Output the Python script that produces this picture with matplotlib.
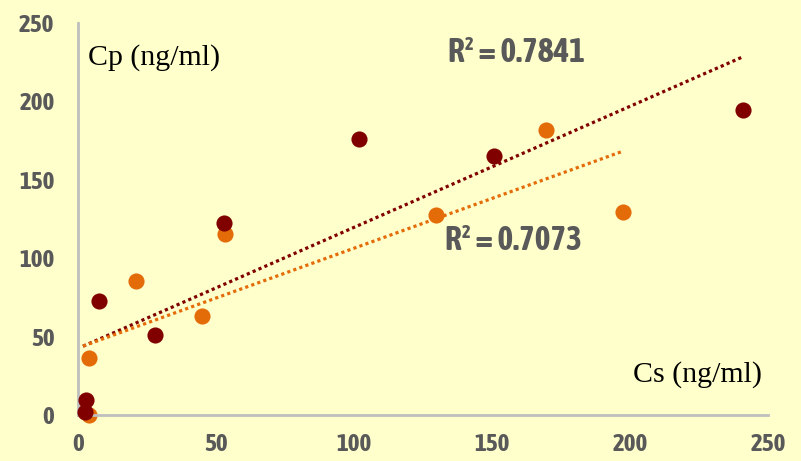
import matplotlib.pyplot as plt
from matplotlib import font_manager
import numpy as np

# serie 1 (merah tua)
cs_red = [2.5, 2.9, 7.6, 27.9, 52.9, 101.8, 150.7, 241.0]
cp_red = [2.0, 9.6, 72.7, 51.0, 122.4, 176.0, 165.0, 194.5]

# serie 2 (oranye)
cs_orange = [4.0, 4.0, 21.0, 45.0, 53.3, 129.7, 169.6, 197.6]
cp_orange = [0.0, 36.4, 85.5, 63.0, 115.4, 127.6, 181.8, 129.5]

r2_labels = ['R² = 0.7841', 'R² = 0.7073']
ticks = [0, 50, 100, 150, 200, 250]

bg = '#FFFFCC'
red = '#800000'
orange = '#E36C09'

# cari font sempit tebal kalau ada
narrow = None
for f in font_manager.fontManager.ttflist:
    nm = f.name
    w = f.weight if isinstance(f.weight, int) else 400
    if ('Condensed' in nm or 'Narrow' in nm) and w >= 700 and f.style == 'normal':
        narrow = nm
        break
if narrow:
    num_font = [narrow, 'DejaVu Sans']
    tick_size, r2_size = 18, 24
else:
    num_font = ['DejaVu Sans']
    tick_size, r2_size = 14, 18

fig = plt.figure(figsize=(8.01, 4.61), dpi=100, facecolor=bg)
ax = fig.add_axes([0.0974, 0.0998, 0.8614, 0.8502], facecolor=bg)

ax.scatter(cs_red, cp_red, s=135, color=red, zorder=3, clip_on=False, linewidths=0)
ax.scatter(cs_orange, cp_orange, s=135, color=orange, zorder=2, clip_on=False, linewidths=0)

# garis tren linier
for xs, ys, c in [(cs_red, cp_red, red), (cs_orange, cp_orange, orange)]:
    k, b = np.polyfit(xs, ys, 1)
    xx = np.array([1.8, max(xs)])
    ax.plot(xx, k * xx + b, color=c, lw=2.3, linestyle=(0, (1, 1)),
            dash_capstyle='butt', zorder=4)

ax.set_xlim(0, 250)
ax.set_ylim(0, 250)
ax.set_xticks(ticks)
ax.set_yticks(ticks)
for sp in ['top', 'right']:
    ax.spines[sp].set_visible(False)
for sp in ['left', 'bottom']:
    ax.spines[sp].set_color('#BFBFBF')
    ax.spines[sp].set_linewidth(2)
ax.tick_params(length=0, labelcolor='#595959')
ax.tick_params(axis='y', pad=17)
ax.tick_params(axis='x', pad=13)
for lab in ax.get_xticklabels() + ax.get_yticklabels():
    lab.set_family(num_font)
    lab.set_fontweight('bold')
    lab.set_fontsize(tick_size)

ax.text(3.6, 228, 'Cp (ng/ml)', family='Liberation Serif', fontsize=21.5,
        va='center', ha='left')
ax.text(247.8, 25.5, 'Cs (ng/ml)', family='Liberation Serif', fontsize=21.5,
        va='center', ha='right')
ax.text(134, 231, r2_labels[0], family=num_font, fontweight='bold',
        fontsize=r2_size, color='#595959', va='center', ha='left')
ax.text(133, 111.6, r2_labels[1], family=num_font, fontweight='bold',
        fontsize=r2_size, color='#595959', va='center', ha='left')

fig.savefig('out.png', dpi=100, facecolor=bg)
